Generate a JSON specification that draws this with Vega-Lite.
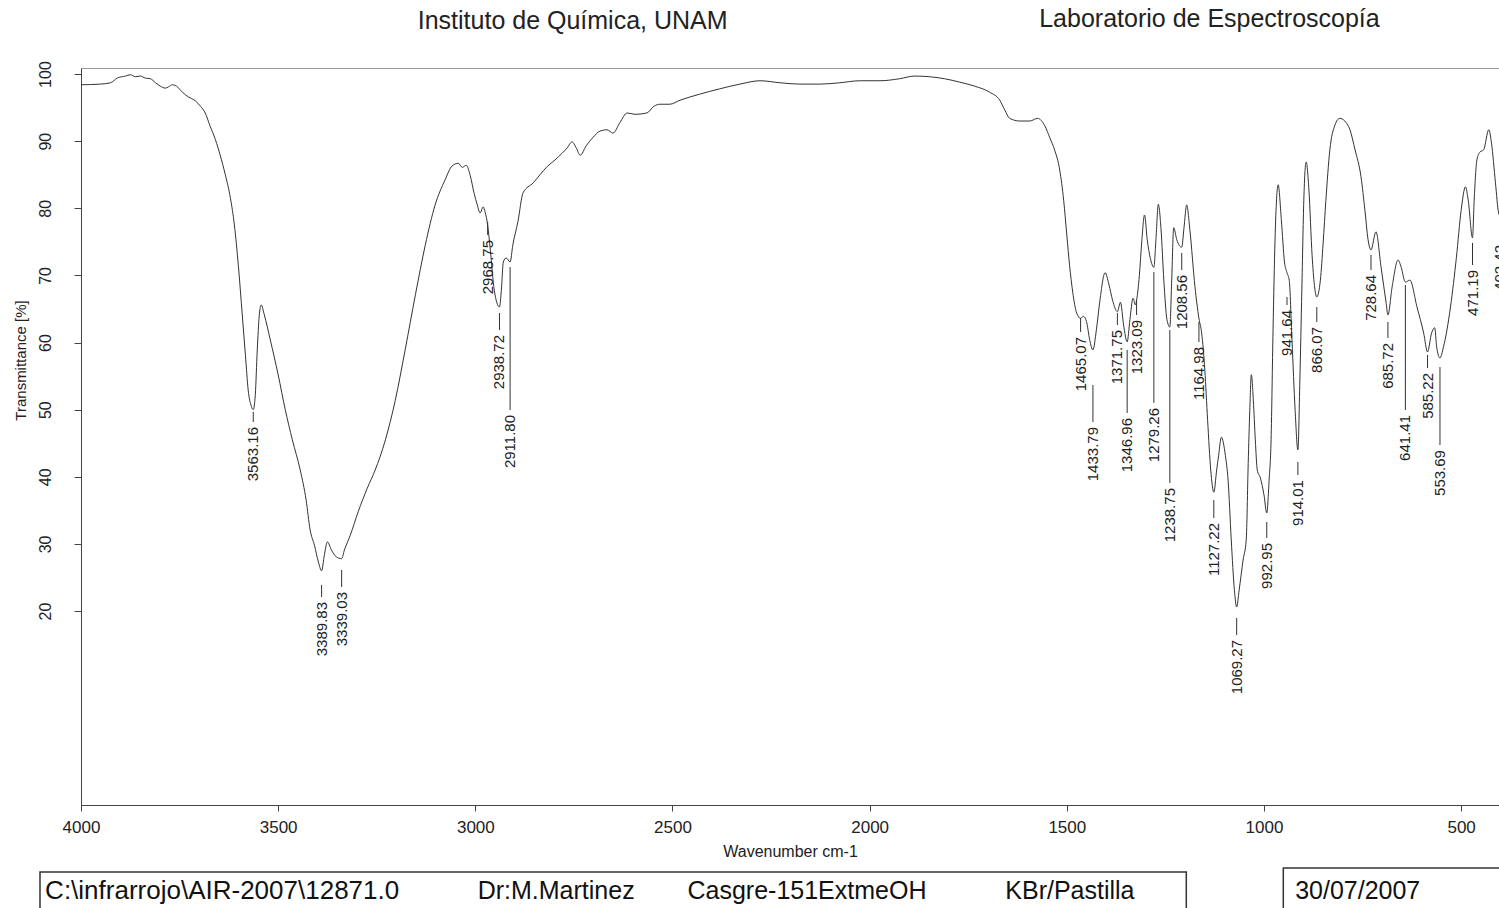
{
  "$schema": "https://vega.github.io/schema/vega-lite/v6.json",
  "width": 1418,
  "height": 737,
  "autosize": {"type": "none"},
  "padding": {"left": 81, "top": 68, "right": 0, "bottom": 103},
  "background": "white",
  "config": {
    "view": {"stroke": "#999", "strokeWidth": 1},
    "font": "Liberation Sans",
    "axis": {"grid": false, "labelFont": "Liberation Sans", "titleFont": "Liberation Sans", "titleFontWeight": "normal", "domainColor": "#444", "tickColor": "#444", "labelColor": "#222", "titleColor": "#222", "labelFlush": false}
  },
  "datasets": {
    "spectrum": [
      {"wn": 4000, "T": 98.4}, {"wn": 3951, "T": 98.5}, {"wn": 3925, "T": 98.7}, {"wn": 3908, "T": 99.4},
      {"wn": 3887, "T": 99.7}, {"wn": 3875, "T": 99.9}, {"wn": 3862, "T": 99.6}, {"wn": 3849, "T": 99.7},
      {"wn": 3837, "T": 99.4}, {"wn": 3824, "T": 99.3}, {"wn": 3811, "T": 98.7}, {"wn": 3799, "T": 98.2},
      {"wn": 3786, "T": 97.9}, {"wn": 3778, "T": 98.1}, {"wn": 3768, "T": 98.4}, {"wn": 3758, "T": 98.2},
      {"wn": 3743, "T": 97.3}, {"wn": 3728, "T": 96.6}, {"wn": 3710, "T": 96.0}, {"wn": 3697, "T": 95.2},
      {"wn": 3685, "T": 94.2}, {"wn": 3673, "T": 92.3}, {"wn": 3659, "T": 90.2}, {"wn": 3647, "T": 87.9},
      {"wn": 3634, "T": 85.0}, {"wn": 3621, "T": 81.5}, {"wn": 3611, "T": 77.5}, {"wn": 3601, "T": 71.5},
      {"wn": 3591, "T": 64.1}, {"wn": 3583, "T": 58.1}, {"wn": 3576, "T": 52.9}, {"wn": 3568, "T": 50.5},
      {"wn": 3563.16, "T": 50.0}, {"wn": 3558, "T": 52.2}, {"wn": 3553, "T": 58.9}, {"wn": 3548, "T": 64.0},
      {"wn": 3543, "T": 65.6}, {"wn": 3535, "T": 64.1}, {"wn": 3520, "T": 60.4}, {"wn": 3500, "T": 55.2},
      {"wn": 3482, "T": 50.0}, {"wn": 3464, "T": 45.5}, {"wn": 3444, "T": 41.0}, {"wn": 3429, "T": 36.5},
      {"wn": 3419, "T": 32.1}, {"wn": 3408, "T": 29.8}, {"wn": 3398, "T": 27.3}, {"wn": 3389.83, "T": 26.0},
      {"wn": 3383, "T": 28.3}, {"wn": 3375, "T": 30.3}, {"wn": 3365, "T": 29.1}, {"wn": 3353, "T": 28.1},
      {"wn": 3339.03, "T": 27.8}, {"wn": 3332, "T": 29.1}, {"wn": 3317, "T": 31.3}, {"wn": 3297, "T": 34.8},
      {"wn": 3274, "T": 38.3}, {"wn": 3254, "T": 41.0}, {"wn": 3228, "T": 45.5}, {"wn": 3203, "T": 51.4},
      {"wn": 3178, "T": 58.9}, {"wn": 3152, "T": 67.1}, {"wn": 3127, "T": 74.5}, {"wn": 3102, "T": 80.5},
      {"wn": 3077, "T": 84.2}, {"wn": 3059, "T": 86.3}, {"wn": 3043, "T": 86.7}, {"wn": 3033, "T": 86.1},
      {"wn": 3023, "T": 86.4}, {"wn": 3013, "T": 84.9}, {"wn": 3003, "T": 82.2}, {"wn": 2995, "T": 80.5},
      {"wn": 2988, "T": 79.3}, {"wn": 2980, "T": 80.2}, {"wn": 2975, "T": 79.4}, {"wn": 2968.75, "T": 77.5},
      {"wn": 2962, "T": 73.8}, {"wn": 2952, "T": 67.8}, {"wn": 2938.72, "T": 65.3}, {"wn": 2934, "T": 67.8},
      {"wn": 2929, "T": 72.0}, {"wn": 2922, "T": 72.6}, {"wn": 2911.8, "T": 72.0}, {"wn": 2905, "T": 74.5},
      {"wn": 2892, "T": 78.0}, {"wn": 2879, "T": 82.3}, {"wn": 2853, "T": 83.8}, {"wn": 2836, "T": 85.0},
      {"wn": 2818, "T": 86.2}, {"wn": 2798, "T": 87.2}, {"wn": 2780, "T": 88.2}, {"wn": 2767, "T": 89.0},
      {"wn": 2755, "T": 89.9}, {"wn": 2744, "T": 89.0}, {"wn": 2734, "T": 87.9}, {"wn": 2719, "T": 89.3},
      {"wn": 2701, "T": 90.6}, {"wn": 2684, "T": 91.5}, {"wn": 2666, "T": 91.7}, {"wn": 2651, "T": 91.2},
      {"wn": 2633, "T": 92.8}, {"wn": 2615, "T": 94.2}, {"wn": 2595, "T": 94.0}, {"wn": 2565, "T": 94.2},
      {"wn": 2547, "T": 95.2}, {"wn": 2532, "T": 95.5}, {"wn": 2507, "T": 95.5}, {"wn": 2481, "T": 96.1},
      {"wn": 2431, "T": 97.0}, {"wn": 2380, "T": 97.8}, {"wn": 2329, "T": 98.5}, {"wn": 2278, "T": 99.0},
      {"wn": 2227, "T": 98.7}, {"wn": 2177, "T": 98.5}, {"wn": 2126, "T": 98.5}, {"wn": 2076, "T": 98.7},
      {"wn": 2025, "T": 99.0}, {"wn": 1974, "T": 99.0}, {"wn": 1924, "T": 99.3}, {"wn": 1886, "T": 99.7},
      {"wn": 1848, "T": 99.6}, {"wn": 1810, "T": 99.3}, {"wn": 1772, "T": 98.8}, {"wn": 1734, "T": 98.2},
      {"wn": 1696, "T": 97.3}, {"wn": 1670, "T": 96.1}, {"wn": 1657, "T": 94.6}, {"wn": 1645, "T": 93.4},
      {"wn": 1619, "T": 93.0}, {"wn": 1594, "T": 93.0}, {"wn": 1574, "T": 93.4}, {"wn": 1556, "T": 92.3},
      {"wn": 1543, "T": 90.5}, {"wn": 1531, "T": 88.7}, {"wn": 1518, "T": 85.7}, {"wn": 1508, "T": 81.2},
      {"wn": 1500, "T": 76.0}, {"wn": 1493, "T": 71.5}, {"wn": 1485, "T": 67.5}, {"wn": 1475, "T": 64.4},
      {"wn": 1465.07, "T": 63.6}, {"wn": 1458, "T": 63.9}, {"wn": 1450, "T": 63.1}, {"wn": 1442, "T": 60.4},
      {"wn": 1433.79, "T": 58.9}, {"wn": 1425, "T": 61.9}, {"wn": 1416, "T": 66.3}, {"wn": 1403, "T": 70.4},
      {"wn": 1393, "T": 68.6}, {"wn": 1384, "T": 66.3}, {"wn": 1371.75, "T": 64.6}, {"wn": 1364, "T": 66.0},
      {"wn": 1356, "T": 62.6}, {"wn": 1346.96, "T": 60.1}, {"wn": 1340, "T": 63.4}, {"wn": 1332, "T": 66.6},
      {"wn": 1326, "T": 65.6}, {"wn": 1323.09, "T": 66.3}, {"wn": 1316, "T": 70.0}, {"wn": 1310, "T": 75.0},
      {"wn": 1303, "T": 79.0}, {"wn": 1296, "T": 75.3}, {"wn": 1288, "T": 72.5}, {"wn": 1279.26, "T": 71.2},
      {"wn": 1274, "T": 75.3}, {"wn": 1268, "T": 80.6}, {"wn": 1261, "T": 76.8}, {"wn": 1254, "T": 69.3},
      {"wn": 1246, "T": 63.4}, {"wn": 1238.75, "T": 62.3}, {"wn": 1234, "T": 69.3}, {"wn": 1229, "T": 77.1},
      {"wn": 1221, "T": 75.3}, {"wn": 1208.56, "T": 74.2}, {"wn": 1203, "T": 77.0}, {"wn": 1196, "T": 80.5},
      {"wn": 1188, "T": 76.8}, {"wn": 1175, "T": 68.3}, {"wn": 1164.98, "T": 63.6}, {"wn": 1158, "T": 61.4},
      {"wn": 1150, "T": 55.9}, {"wn": 1143, "T": 48.5}, {"wn": 1135, "T": 41.0}, {"wn": 1127.22, "T": 37.7},
      {"wn": 1120, "T": 41.0}, {"wn": 1115, "T": 43.2}, {"wn": 1108, "T": 45.9}, {"wn": 1098, "T": 43.2},
      {"wn": 1091, "T": 39.5}, {"wn": 1083, "T": 30.6}, {"wn": 1075, "T": 23.1}, {"wn": 1069.27, "T": 20.6},
      {"wn": 1063, "T": 23.1}, {"wn": 1053, "T": 27.6}, {"wn": 1045, "T": 30.6}, {"wn": 1040, "T": 42.0},
      {"wn": 1036, "T": 49.9}, {"wn": 1032, "T": 55.2}, {"wn": 1027, "T": 51.4}, {"wn": 1022, "T": 45.5},
      {"wn": 1017, "T": 41.0}, {"wn": 1009, "T": 39.8}, {"wn": 1000, "T": 37.3}, {"wn": 992.95, "T": 34.6},
      {"wn": 987, "T": 39.5}, {"wn": 982, "T": 45.5}, {"wn": 977, "T": 61.9}, {"wn": 972, "T": 75.3},
      {"wn": 964, "T": 83.5}, {"wn": 956, "T": 78.3}, {"wn": 948, "T": 72.0}, {"wn": 941.64, "T": 70.4},
      {"wn": 936, "T": 69.3}, {"wn": 929, "T": 60.4}, {"wn": 921, "T": 49.9}, {"wn": 914.01, "T": 44.0},
      {"wn": 909, "T": 54.4}, {"wn": 904, "T": 67.8}, {"wn": 899, "T": 81.2}, {"wn": 893, "T": 86.9},
      {"wn": 886, "T": 82.7}, {"wn": 878, "T": 73.0}, {"wn": 866.07, "T": 66.8}, {"wn": 857, "T": 69.3},
      {"wn": 850, "T": 74.8}, {"wn": 843, "T": 81.2}, {"wn": 833, "T": 88.7}, {"wn": 820, "T": 92.4},
      {"wn": 808, "T": 93.4}, {"wn": 795, "T": 93.0}, {"wn": 782, "T": 91.7}, {"wn": 769, "T": 88.7},
      {"wn": 754, "T": 84.7}, {"wn": 744, "T": 79.7}, {"wn": 736, "T": 75.3}, {"wn": 728.64, "T": 73.8},
      {"wn": 716, "T": 76.5}, {"wn": 703, "T": 71.2}, {"wn": 690, "T": 65.8}, {"wn": 685.72, "T": 64.1},
      {"wn": 675, "T": 68.3}, {"wn": 660, "T": 72.3}, {"wn": 652, "T": 71.2}, {"wn": 641.41, "T": 69.0},
      {"wn": 630, "T": 69.3}, {"wn": 612, "T": 65.3}, {"wn": 595, "T": 61.4}, {"wn": 585.22, "T": 58.6},
      {"wn": 575, "T": 61.4}, {"wn": 567, "T": 62.2}, {"wn": 562, "T": 59.3}, {"wn": 553.69, "T": 57.7},
      {"wn": 545, "T": 59.3}, {"wn": 527, "T": 65.3}, {"wn": 512, "T": 72.7}, {"wn": 500, "T": 79.7},
      {"wn": 489, "T": 83.2}, {"wn": 482, "T": 81.2}, {"wn": 471.19, "T": 75.6}, {"wn": 467, "T": 81.2},
      {"wn": 460, "T": 87.2}, {"wn": 452, "T": 88.4}, {"wn": 443, "T": 88.7}, {"wn": 430, "T": 91.7},
      {"wn": 423, "T": 89.7}, {"wn": 413, "T": 83.8}, {"wn": 405, "T": 79.3}, {"wn": 402.42, "T": 78.9}
    ],
    "peaks": [
      {"wn": 3563.16, "label": "3563.16", "top": 49.65, "bottom": 48.16},
      {"wn": 3389.83, "label": "3389.83", "top": 23.88, "bottom": 22.09},
      {"wn": 3339.03, "label": "3339.03", "top": 26.11, "bottom": 23.58},
      {"wn": 2968.75, "label": "2968.75", "top": 77.96, "bottom": 76.02},
      {"wn": 2938.72, "label": "2938.72", "top": 64.4, "bottom": 61.87},
      {"wn": 2911.8, "label": "2911.80", "top": 71.25, "bottom": 49.95},
      {"wn": 1465.07, "label": "1465.07", "top": 63.65, "bottom": 61.57},
      {"wn": 1433.79, "label": "1433.79", "top": 53.67, "bottom": 48.16},
      {"wn": 1371.75, "label": "1371.75", "top": 64.4, "bottom": 62.61},
      {"wn": 1346.96, "label": "1346.96", "top": 58.89, "bottom": 49.5},
      {"wn": 1323.09, "label": "1323.09", "top": 66.34, "bottom": 64.1},
      {"wn": 1279.26, "label": "1279.26", "top": 70.51, "bottom": 51.0},
      {"wn": 1238.75, "label": "1238.75", "top": 61.87, "bottom": 39.07},
      {"wn": 1208.56, "label": "1208.56", "top": 73.34, "bottom": 70.81},
      {"wn": 1164.98, "label": "1164.98", "top": 63.06, "bottom": 60.08},
      {"wn": 1127.22, "label": "1127.22", "top": 36.54, "bottom": 33.86},
      {"wn": 1069.27, "label": "1069.27", "top": 18.96, "bottom": 16.43},
      {"wn": 992.95, "label": "992.95", "top": 33.26, "bottom": 30.88},
      {"wn": 941.64, "label": "941.64", "top": 66.78, "bottom": 65.59},
      {"wn": 914.01, "label": "914.01", "top": 42.2, "bottom": 40.26},
      {"wn": 866.07, "label": "866.07", "top": 65.29, "bottom": 63.06},
      {"wn": 728.64, "label": "728.64", "top": 73.04, "bottom": 70.81},
      {"wn": 685.72, "label": "685.72", "top": 63.06, "bottom": 60.68},
      {"wn": 641.41, "label": "641.41", "top": 68.57, "bottom": 49.95},
      {"wn": 585.22, "label": "585.22", "top": 58.14, "bottom": 56.21},
      {"wn": 553.69, "label": "553.69", "top": 56.35, "bottom": 44.73},
      {"wn": 471.19, "label": "471.19", "top": 74.83, "bottom": 71.55},
      {"wn": 402.42, "label": "402.42", "top": 77.51, "bottom": 75.28}
    ]
  },
  "layer": [
    {
      "data": {"name": "spectrum"},
      "mark": {"type": "line", "color": "#333333", "strokeWidth": 1, "clip": true, "interpolate": "monotone"},
      "encoding": {
        "x": {
          "field": "wn", "type": "quantitative",
          "scale": {"domain": [404, 4000], "reverse": true, "nice": false, "zero": false},
          "axis": {
            "values": [4000, 3500, 3000, 2500, 2000, 1500, 1000, 500],
            "format": "d", "labelFontSize": 17, "labelPadding": 8, "tickSize": 6,
            "title": "Wavenumber cm-1", "titleFontSize": 16, "titlePadding": 8
          }
        },
        "y": {
          "field": "T", "type": "quantitative",
          "scale": {"domain": [-8.9, 100.9], "nice": false, "zero": false},
          "axis": {
            "values": [20, 30, 40, 50, 60, 70, 80, 90, 100],
            "labelAngle": 270, "labelAlign": "center", "labelBaseline": "bottom",
            "labelFontSize": 16, "tickSize": 7, "labelPadding": 21,
            "title": "Transmittance [%]", "titleFontSize": 15, "titleAngle": 270,
            "titleX": -61, "titleY": 292, "titleAlign": "center", "titleBaseline": "middle"
          }
        }
      }
    },
    {
      "data": {"name": "peaks"},
      "mark": {"type": "rule", "color": "#333333", "strokeWidth": 1},
      "encoding": {
        "x": {"field": "wn", "type": "quantitative"},
        "y": {"field": "top", "type": "quantitative"},
        "y2": {"field": "bottom"}
      }
    },
    {
      "data": {"name": "peaks"},
      "mark": {"type": "text", "angle": 270, "align": "right", "baseline": "middle", "dx": -5, "fontSize": 15, "color": "#222222", "font": "Liberation Sans"},
      "encoding": {
        "x": {"field": "wn", "type": "quantitative"},
        "y": {"field": "bottom", "type": "quantitative"},
        "text": {"field": "label"}
      }
    },
    {
      "data": {"values": [{}]},
      "mark": {"type": "text", "align": "left", "baseline": "alphabetic", "fontSize": 25, "color": "#222222", "font": "Liberation Sans"},
      "encoding": {"x": {"datum": 3146}, "y": {"datum": 106.7}, "text": {"value": "Instituto de Química, UNAM"}}
    },
    {
      "data": {"values": [{}]},
      "mark": {"type": "text", "align": "left", "baseline": "alphabetic", "fontSize": 25, "color": "#222222", "font": "Liberation Sans"},
      "encoding": {"x": {"datum": 1570}, "y": {"datum": 107.0}, "text": {"value": "Laboratorio de Espectroscopía"}}
    },
    {
      "data": {"values": [{}]},
      "mark": {"type": "rect", "fill": null, "fillOpacity": 0, "stroke": "#333333", "strokeWidth": 1.5},
      "encoding": {"x": {"datum": 4104}, "x2": {"datum": 1197}, "y": {"datum": -18.9}, "y2": {"datum": -26}}
    },
    {
      "data": {"values": [{}]},
      "mark": {"type": "rect", "fill": null, "fillOpacity": 0, "stroke": "#333333", "strokeWidth": 1.5},
      "encoding": {"x": {"datum": 951}, "x2": {"datum": 300}, "y": {"datum": -18.3}, "y2": {"datum": -26}}
    },
    {
      "data": {"values": [{}]},
      "mark": {"type": "text", "align": "left", "baseline": "alphabetic", "fontSize": 26, "color": "#111111", "font": "Liberation Sans"},
      "encoding": {"x": {"datum": 4091}, "y": {"datum": -22.9}, "text": {"value": "C:\\infrarrojo\\AIR-2007\\12871.0"}}
    },
    {
      "data": {"values": [{}]},
      "mark": {"type": "text", "align": "left", "baseline": "alphabetic", "fontSize": 25, "color": "#111111", "font": "Liberation Sans"},
      "encoding": {"x": {"datum": 2994}, "y": {"datum": -22.9}, "text": {"value": "Dr:M.Martinez"}}
    },
    {
      "data": {"values": [{}]},
      "mark": {"type": "text", "align": "left", "baseline": "alphabetic", "fontSize": 25, "color": "#111111", "font": "Liberation Sans"},
      "encoding": {"x": {"datum": 2462}, "y": {"datum": -22.9}, "text": {"value": "Casgre-151ExtmeOH"}}
    },
    {
      "data": {"values": [{}]},
      "mark": {"type": "text", "align": "left", "baseline": "alphabetic", "fontSize": 25, "color": "#111111", "font": "Liberation Sans"},
      "encoding": {"x": {"datum": 1656}, "y": {"datum": -22.9}, "text": {"value": "KBr/Pastilla"}}
    },
    {
      "data": {"values": [{}]},
      "mark": {"type": "text", "align": "left", "baseline": "alphabetic", "fontSize": 25, "color": "#111111", "font": "Liberation Sans"},
      "encoding": {"x": {"datum": 921}, "y": {"datum": -22.9}, "text": {"value": "30/07/2007"}}
    }
  ]
}
